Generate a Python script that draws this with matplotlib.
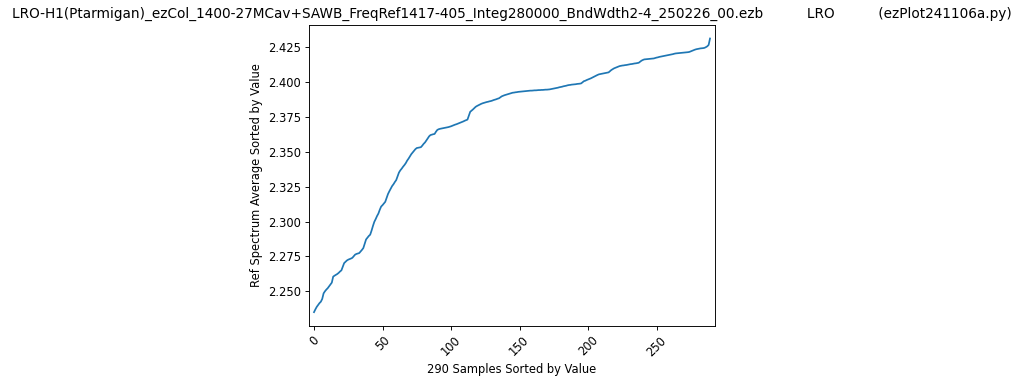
import matplotlib
matplotlib.use("Agg")
import matplotlib.pyplot as plt

# Title pieces
FILE_NAME = "LRO-H1(Ptarmigan)_ezCol_1400-27MCav+SAWB_FreqRef1417-405_Integ280000_BndWdth2-4_250226_00.ezb"
SITE = "LRO"
PROG = "(ezPlot241106a.py)"

X_LABEL = "290 Samples Sorted by Value"
Y_LABEL = "Ref Spectrum Average Sorted by Value"

# ref spectrum averages, sorted
sortedValues = [
    2.2350, 2.2370, 2.2388, 2.2402, 2.2415, 2.2425, 2.2445, 2.2485, 2.2500, 2.2512,
    2.2522, 2.2535, 2.2548, 2.2562, 2.2605, 2.2612, 2.2618, 2.2624, 2.2632, 2.2642,
    2.2650, 2.2675, 2.2702, 2.2712, 2.2721, 2.2727, 2.2731, 2.2735, 2.2740, 2.2752,
    2.2763, 2.2768, 2.2771, 2.2774, 2.2785, 2.2797, 2.2810, 2.2840, 2.2872, 2.2885,
    2.2897, 2.2906, 2.2935, 2.2968, 2.2998, 2.3018, 2.3040, 2.3058, 2.3085, 2.3108,
    2.3118, 2.3130, 2.3142, 2.3170, 2.3198, 2.3218, 2.3236, 2.3255, 2.3268, 2.3284,
    2.3298, 2.3325, 2.3352, 2.3368, 2.3380, 2.3394, 2.3406, 2.3420, 2.3438, 2.3452,
    2.3468, 2.3484, 2.3496, 2.3508, 2.3520, 2.3528, 2.3530, 2.3532, 2.3534, 2.3545,
    2.3558, 2.3568, 2.3582, 2.3597, 2.3612, 2.3621, 2.3624, 2.3627, 2.3629, 2.3645,
    2.3658, 2.3663, 2.3666, 2.3668, 2.3670, 2.3672, 2.3674, 2.3676, 2.3678, 2.3681,
    2.3684, 2.3688, 2.3692, 2.3696, 2.3699, 2.3703, 2.3707, 2.3711, 2.3715, 2.3719,
    2.3724, 2.3728, 2.3732, 2.3760, 2.3788, 2.3796, 2.3805, 2.3815, 2.3824, 2.3830,
    2.3835, 2.3840, 2.3845, 2.3849, 2.3852, 2.3855, 2.3858, 2.3860, 2.3863, 2.3865,
    2.3868, 2.3872, 2.3875, 2.3878, 2.3882, 2.3885, 2.3892, 2.3899, 2.3903, 2.3907,
    2.3910, 2.3913, 2.3916, 2.3919, 2.3922, 2.3925, 2.3926, 2.3928, 2.3929, 2.3931,
    2.3932, 2.3933, 2.3934, 2.3935, 2.3936, 2.3937, 2.3938, 2.3939, 2.3940, 2.3940,
    2.3941, 2.3942, 2.3942, 2.3943, 2.3944, 2.3944, 2.3945, 2.3945, 2.3946, 2.3947,
    2.3947, 2.3948, 2.3949, 2.3951, 2.3953, 2.3955, 2.3957, 2.3959, 2.3961, 2.3964,
    2.3966, 2.3968, 2.3971, 2.3973, 2.3975, 2.3978, 2.3980, 2.3981, 2.3983, 2.3984,
    2.3985, 2.3986, 2.3988, 2.3989, 2.3990, 2.3992, 2.4000, 2.4008, 2.4011, 2.4016,
    2.4020, 2.4024, 2.4028, 2.4033, 2.4038, 2.4043, 2.4048, 2.4053, 2.4057, 2.4059,
    2.4061, 2.4063, 2.4065, 2.4067, 2.4069, 2.4071, 2.4080, 2.4088, 2.4094, 2.4100,
    2.4104, 2.4108, 2.4112, 2.4116, 2.4118, 2.4120, 2.4121, 2.4123, 2.4124, 2.4126,
    2.4128, 2.4130, 2.4131, 2.4133, 2.4135, 2.4136, 2.4138, 2.4140, 2.4148, 2.4155,
    2.4160, 2.4164, 2.4165, 2.4166, 2.4167, 2.4168, 2.4169, 2.4170, 2.4171, 2.4174,
    2.4177, 2.4179, 2.4182, 2.4184, 2.4186, 2.4188, 2.4190, 2.4192, 2.4194, 2.4196,
    2.4198, 2.4200, 2.4202, 2.4205, 2.4207, 2.4208, 2.4209, 2.4210, 2.4211, 2.4212,
    2.4213, 2.4214, 2.4215, 2.4216, 2.4218, 2.4222, 2.4226, 2.4230, 2.4234, 2.4237,
    2.4239, 2.4241, 2.4243, 2.4244, 2.4245, 2.4247, 2.4252, 2.4258, 2.4268, 2.4314,
]

# the original was saved smaller than it was drawn, so scale everything down
SCALE = 0.83
TITLE_SIZE = 9.85
plt.rcParams.update({
    "font.size": 10 * SCALE,
    "lines.linewidth": 1.5 * SCALE,
    "axes.linewidth": 0.8 * SCALE,
    "axes.labelpad": 4.0 * SCALE,
    "axes.titlepad": 6.0 * SCALE,
    "xtick.major.size": 3.5 * SCALE,
    "ytick.major.size": 3.5 * SCALE,
    "xtick.major.width": 0.8 * SCALE,
    "ytick.major.width": 0.8 * SCALE,
    "xtick.major.pad": 3.5 * SCALE,
    "ytick.major.pad": 3.5 * SCALE,
})

fig = plt.figure(figsize=(10.24, 3.82), dpi=100)
ax = fig.add_axes([0.302, 0.147, 0.396, 0.788])

ax.plot(range(len(sortedValues)), sortedValues)
ax.margins(x=0.012)

gap = " " * 10
ax.set_title(FILE_NAME + gap + SITE + gap + PROG, fontsize=TITLE_SIZE)
ax.set_xlabel(X_LABEL)
ax.set_ylabel(Y_LABEL)
plt.xticks(rotation=45)

plt.savefig("out.png", dpi=100)
plt.close()
